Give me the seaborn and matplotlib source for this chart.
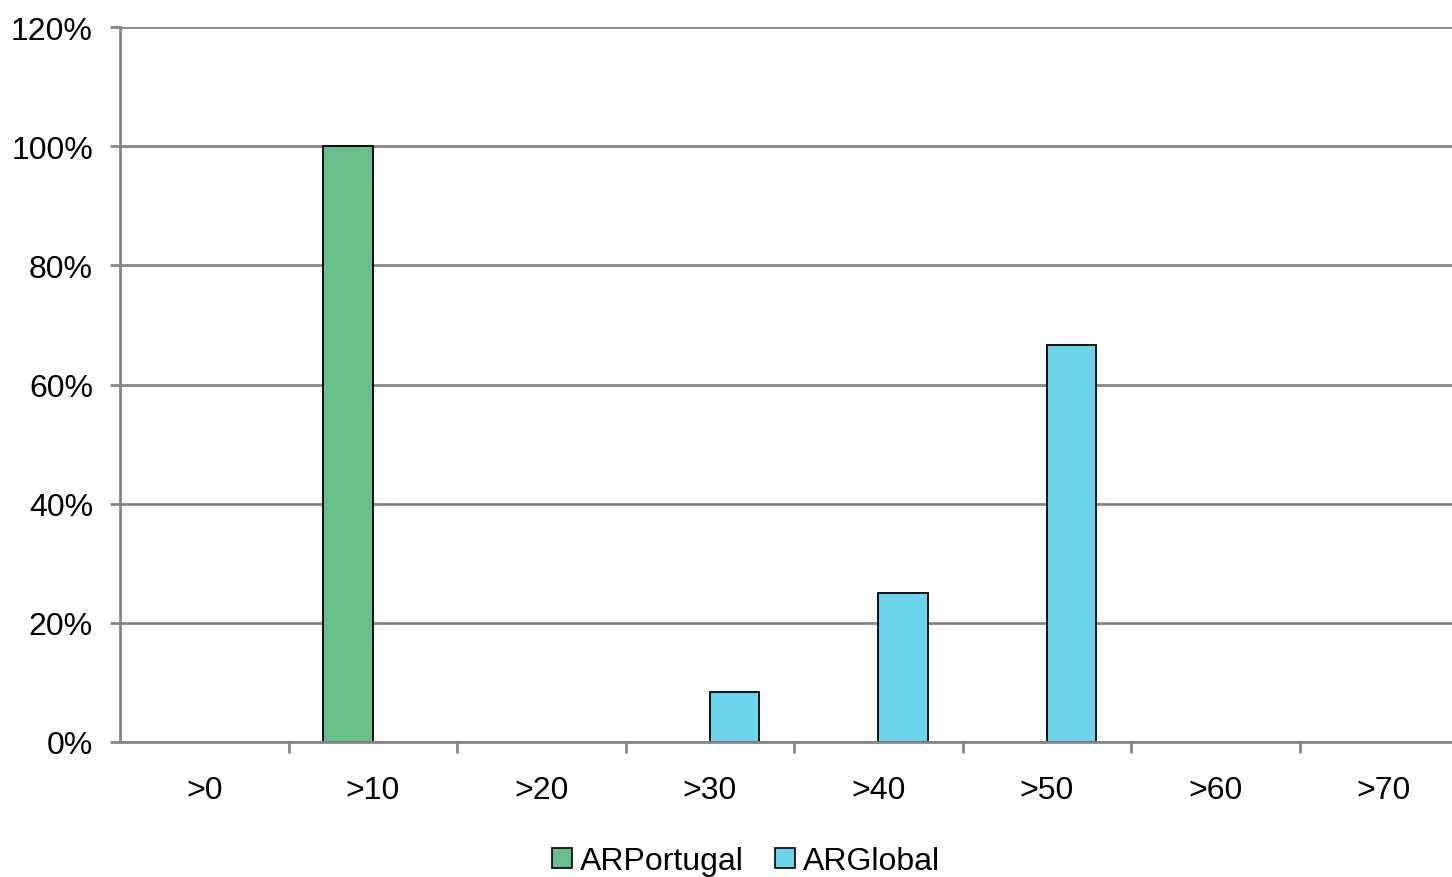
import matplotlib
matplotlib.use("Agg")
import matplotlib.pyplot as plt
import matplotlib.ticker as tick
from matplotlib.patches import Patch
import seaborn as sns
import pandas as pd

categories = ['>0', '>10', '>20', '>30', '>40', '>50', '>60', '>70']
ar_portugal = [0, 100, 0, 0, 0, 0, 0, 0]
ar_global = [0, 0, 0, 8.33, 25, 66.67, 0, 0]
series_names = ['ARPortugal', 'ARGlobal']
colors = ['#67BF8B', '#6BD3EA']

df = pd.DataFrame({
    'Category': categories * 2,
    'Value': ar_portugal + ar_global,
    'Series': [series_names[0]] * len(categories) + [series_names[1]] * len(categories),
})

sns.set_style("white")
plt.rcParams['font.family'] = ['Liberation Sans', 'DejaVu Sans']
plt.rcParams['text.color'] = 'black'
plt.rcParams['xtick.color'] = 'black'
plt.rcParams['ytick.color'] = 'black'

fig = plt.figure(figsize=(14.52, 8.78), dpi=100)
# plot area: x from 120px, category width ~168.5px (runs a bit past the right edge)
ax = fig.add_axes([120 / 1452, 135 / 878, 1348 / 1452, 715 / 878])

sns.barplot(data=df, x='Category', y='Value', hue='Series', order=categories,
            hue_order=series_names, palette=colors, width=0.59, dodge=True,
            edgecolor='black', linewidth=1.3, saturation=1, legend=False, ax=ax)

# no outline on empty bars
for p in ax.patches:
    if p.get_height() == 0:
        p.set_linewidth(0)

ax.set_xlim(-0.5, 7.5)
ax.set_ylim(0, 120)
ax.set_yticks(range(0, 121, 20))
ax.yaxis.set_major_formatter(tick.StrMethodFormatter('{x:.0f}%'))
ax.set_xlabel('')
ax.set_ylabel('')

grid_c = '#868686'
ax.grid(axis='y', color=grid_c, linewidth=2)
ax.set_axisbelow(True)
for s in ['top', 'right']:
    ax.spines[s].set_visible(False)
for s in ['left', 'bottom']:
    ax.spines[s].set_color(grid_c)
    ax.spines[s].set_linewidth(2)

# category labels at centers, tick marks at boundaries
ax.set_xticks(range(len(categories)))
ax.set_xticklabels(categories)
ax.tick_params(axis='x', which='major', length=0, pad=24, labelsize=23, labelcolor='black')
ax.set_xticks([i + 0.5 for i in range(len(categories) - 1)], minor=True)
ax.tick_params(axis='x', which='minor', bottom=True, length=8, width=2, color=grid_c)
ax.tick_params(axis='y', length=7, width=2, color=grid_c, pad=12.5, labelsize=23,
               labelcolor='black', left=True)

handles = [Patch(facecolor=c, edgecolor='black', linewidth=1.2, label=n)
           for c, n in zip(colors, series_names)]
fig.legend(handles=handles, loc='center', bbox_to_anchor=(746 / 1452, 1 - 862 / 878),
           ncol=2, frameon=False, fontsize=23, handlelength=0.6, handleheight=0.6,
           handletextpad=0.25, columnspacing=1.0)

fig.savefig('out.png', dpi=100)
